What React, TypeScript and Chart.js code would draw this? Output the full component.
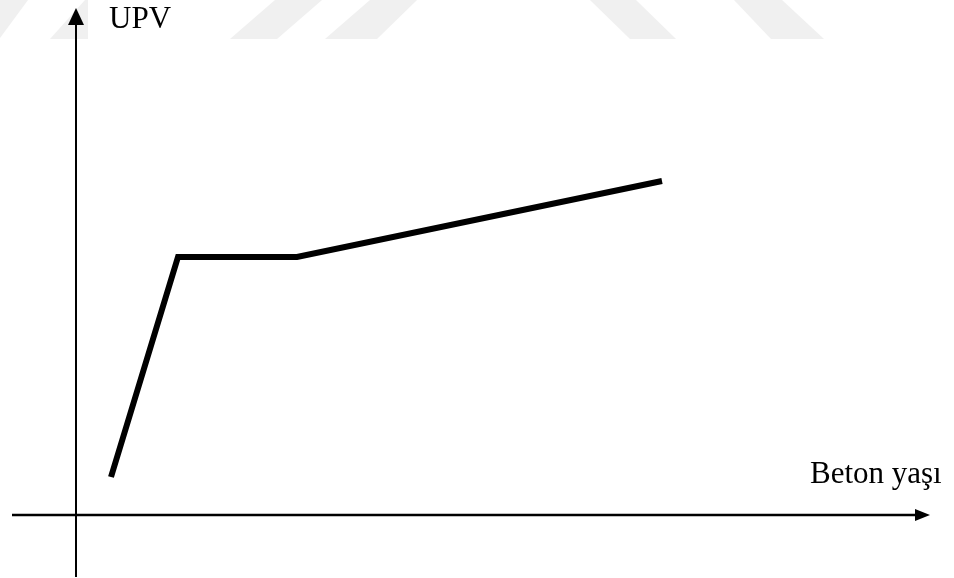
import React, { useEffect, useRef } from "react";
import { Chart, registerables } from "chart.js";

Chart.register(...registerables);

// Schematic: UPV vs concrete age
const ageValues: number[] = [3.5, 10.2, 22.1, 58.6];
const upvValues: number[] = [3.8, 25.8, 25.8, 33.4];
const yAxisTitle = "UPV";
const xAxisTitle = "Beton yaşı";

const W = 954;
const H = 578;

const watermark = {
  id: "watermark",
  beforeDraw(chart: any) {
    const ctx = chart.ctx;
    ctx.save();
    ctx.fillStyle = "#ffffff";
    ctx.fillRect(0, 0, chart.width, chart.height);
    ctx.fillStyle = "#f0f0f0";
    const polys: number[][][] = [
      [[0, 0], [28, 0], [0, 38]],
      [[85, 0], [135, 0], [100, 39], [50, 39]],
      [[275, 0], [322, 0], [277, 39], [230, 39]],
      [[370, 0], [417, 0], [377, 39], [325, 39]],
      [[590, 0], [636, 0], [676, 39], [630, 39]],
      [[734, 0], [782, 0], [824, 39], [771, 39]],
    ];
    for (const p of polys) {
      ctx.beginPath();
      ctx.moveTo(p[0][0], p[0][1]);
      for (let i = 1; i < p.length; i++) ctx.lineTo(p[i][0], p[i][1]);
      ctx.closePath();
      ctx.fill();
    }
    ctx.fillStyle = "#ffffff";
    ctx.fillRect(88, 0, 128, 40);
    ctx.restore();
  },
};

const axesPlugin = {
  id: "axesArrows",
  afterDatasetsDraw(chart: any) {
    const ctx = chart.ctx;
    const xs = chart.scales.x;
    const ys = chart.scales.y;
    const x0 = xs.getPixelForValue(0);
    const y0 = ys.getPixelForValue(0);
    const yBottom = ys.getPixelForValue(-6.2);
    const yTip = ys.getPixelForValue(50.7);
    const xLeft = xs.getPixelForValue(-6.4);
    const xTip = xs.getPixelForValue(85.4);
    ctx.save();
    ctx.strokeStyle = "#000";
    ctx.fillStyle = "#000";
    ctx.lineWidth = 2;
    // vertical axis
    ctx.beginPath();
    ctx.moveTo(x0, yBottom);
    ctx.lineTo(x0, yTip + 14);
    ctx.stroke();
    ctx.beginPath();
    ctx.moveTo(x0, yTip);
    ctx.lineTo(x0 - 8, yTip + 17);
    ctx.lineTo(x0 + 8, yTip + 17);
    ctx.closePath();
    ctx.fill();
    // horizontal axis
    ctx.lineWidth = 2.5;
    ctx.beginPath();
    ctx.moveTo(xLeft, y0);
    ctx.lineTo(xTip - 12, y0);
    ctx.stroke();
    ctx.beginPath();
    ctx.moveTo(xTip, y0);
    ctx.lineTo(xTip - 15, y0 - 6);
    ctx.lineTo(xTip - 15, y0 + 6);
    ctx.closePath();
    ctx.fill();
    // titles
    ctx.font = '31px "Liberation Serif", "Times New Roman", serif';
    ctx.textBaseline = "alphabetic";
    ctx.textAlign = "left";
    ctx.fillText(yAxisTitle, x0 + 33, 28);
    ctx.fillText(xAxisTitle, xLeft + 798, y0 - 32);
    ctx.restore();
  },
};

export default function App() {
  const ref = useRef<HTMLCanvasElement | null>(null);
  useEffect(() => {
    if (!ref.current) return;
    const chart = new Chart(ref.current, {
      type: "line",
      data: {
        datasets: [
          {
            data: ageValues.map((a, i) => ({ x: a, y: upvValues[i] })),
            borderColor: "#000",
            borderWidth: 6,
            pointRadius: 0,
            tension: 0,
            borderCapStyle: "butt",
            borderJoinStyle: "miter",
            fill: false,
          },
        ],
      },
      options: {
        animation: false,
        responsive: false,
        devicePixelRatio: 1,
        layout: { padding: 0, autoPadding: false },
        plugins: { legend: { display: false }, tooltip: { enabled: false } },
        scales: {
          x: { type: "linear", min: -7.6, max: 87.8, display: false },
          y: { type: "linear", min: -6.3, max: 51.5, display: false },
        },
      },
      plugins: [watermark, axesPlugin],
    } as any);
    return () => chart.destroy();
  }, []);
  return (
    <div style={{ position: "fixed", left: 0, top: 0, width: W, height: H, background: "#fff" }}>
      <canvas ref={ref} width={W} height={H} style={{ width: W, height: H, display: "block" }} />
    </div>
  );
}
